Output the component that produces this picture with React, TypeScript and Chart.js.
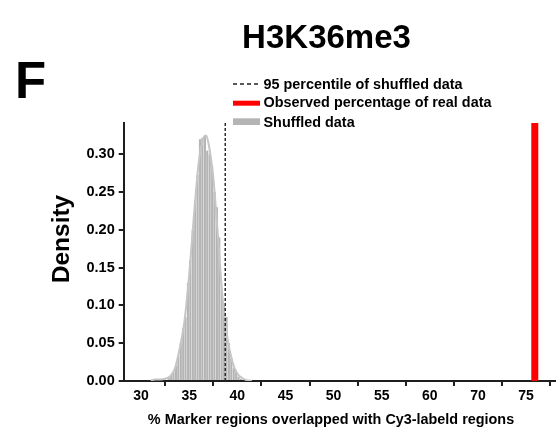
import { useEffect, useRef } from "react";
import { Chart, registerables } from "chart.js";

Chart.register(...registerables);

const FONT = "'Liberation Sans', Arial, Helvetica, sans-serif";

// ---- data ----
const histBinCenters = [
  31.375, 31.625, 32.875, 33.125, 33.375, 33.625, 33.875, 34.125, 34.375, 34.625,
  34.875, 35.125, 35.375, 35.625, 35.875, 36.125, 36.375, 36.625, 36.875, 37.125,
  37.375, 37.625, 37.875, 38.125, 38.375, 38.625, 38.875, 39.125, 39.375, 39.625,
  39.875, 40.125, 40.375,
];
const histDensity = [
  0.002, 0.003, 0.004, 0.008, 0.012, 0.02, 0.032, 0.05, 0.07, 0.085,
  0.13, 0.16, 0.2, 0.24, 0.273, 0.32, 0.322, 0.325, 0.305, 0.3,
  0.284, 0.25, 0.23, 0.19, 0.12, 0.1, 0.085, 0.05, 0.03, 0.017,
  0.012, 0.006, 0.003,
];
const kdeX = [31, 31.5, 32, 32.5, 33, 33.5, 34, 34.5, 35, 35.5, 36, 36.5, 36.75, 37, 37.5, 38, 38.5, 39, 39.5, 40, 40.5, 41, 41.5];
const kdeY = [0.001, 0.002, 0.002, 0.003, 0.006, 0.016, 0.042, 0.078, 0.14, 0.22, 0.29, 0.322, 0.325, 0.315, 0.27, 0.19, 0.105, 0.055, 0.025, 0.01, 0.004, 0.001, 0];
const percentile95 = 38.75;
// position of the observed value on the axis as drawn (axis labels jump 60 -> 70)
const observedPct = 70.9;
const xTickValues = [30, 35, 40, 45, 50, 55, 60, 65, 70];
const xTickLabels = ["30", "35", "40", "45", "50", "55", "60", "70", "75"];
const yTickValues = [0, 0.05, 0.1, 0.15, 0.2, 0.25, 0.3];
const xMin = 28.2;
const xMax = 73.0;
const yMax = 0.3414;
const legendLabels = ["95 percentile of shuffled data", "Observed percentage of real data", "Shuffled data"];
const titleText = "H3K36me3";
const panelLetter = "F";
const xTitle = "% Marker regions overlapped with Cy3-labeld regions";
const yTitle = "Density";

const AXIS = "#1e1e1e";
const GRAY = "#b4b4b4";
const RED = "#ff0000";

const textPlugin = {
  id: "texts",
  afterDraw(chart: any) {
    const ctx = chart.ctx as CanvasRenderingContext2D;
    ctx.save();
    ctx.fillStyle = "#000";
    ctx.textBaseline = "alphabetic";

    // panel letter
    ctx.textAlign = "left";
    ctx.font = `bold 51px ${FONT}`;
    ctx.fillText(panelLetter, 15, 98);

    // title
    ctx.textAlign = "center";
    ctx.font = `bold 33px ${FONT}`;
    ctx.fillText(titleText, 326.5, 48);

    // axis titles
    ctx.font = `bold 14.4px ${FONT}`;
    ctx.fillText(xTitle, 331, 424);

    ctx.save();
    ctx.translate(62, 239);
    ctx.rotate(-Math.PI / 2);
    ctx.textBaseline = "middle";
    ctx.font = `bold 24.5px ${FONT}`;
    ctx.fillText(yTitle, 0, 0);
    ctx.restore();

    // legend
    const lx0 = 233;
    const lx1 = 260;
    ctx.save();
    ctx.strokeStyle = "#222";
    ctx.lineWidth = 1.5;
    ctx.setLineDash([4, 3]);
    ctx.beginPath();
    ctx.moveTo(lx0, 84);
    ctx.lineTo(lx1, 84);
    ctx.stroke();
    ctx.restore();

    ctx.fillStyle = RED;
    ctx.fillRect(lx0, 100.7, lx1 - lx0, 5);
    ctx.fillStyle = GRAY;
    ctx.fillRect(lx0, 118.3, lx1 - lx0, 6.7);

    ctx.fillStyle = "#000";
    ctx.textAlign = "left";
    ctx.font = `bold 14.4px ${FONT}`;
    const baselines = [88.5, 107, 126.5];
    legendLabels.forEach((t, i) => ctx.fillText(t, 263.5, baselines[i]));

    ctx.restore();
  },
};

export default function App() {
  const canvasRef = useRef<HTMLCanvasElement | null>(null);

  useEffect(() => {
    if (!canvasRef.current) return;
    const chart = new Chart(canvasRef.current, {
      type: "bar",
      data: {
        datasets: [
          {
            type: "line",
            label: "obs",
            data: [
              { x: observedPct, y: 0 },
              { x: observedPct, y: yMax },
            ],
            borderColor: RED,
            borderWidth: 7,
            borderCapStyle: "butt",
            pointRadius: 0,
            order: 1,
          } as any,
          {
            type: "line",
            label: "p95",
            data: [
              { x: percentile95, y: 0 },
              { x: percentile95, y: yMax },
            ],
            borderColor: "#2a2a2a",
            borderWidth: 1.5,
            borderDash: [3, 2],
            pointRadius: 0,
            order: 1,
          } as any,
          {
            type: "line",
            label: "kde",
            data: kdeX.map((x, i) => ({ x, y: kdeY[i] })),
            borderColor: "#c6c6c6",
            borderWidth: 2,
            pointRadius: 0,
            cubicInterpolationMode: "monotone",
            fill: false,
            order: 2,
          } as any,
          {
            type: "bar",
            label: "Shuffled data",
            data: histBinCenters.map((x, i) => ({ x, y: histDensity[i] })),
            backgroundColor: GRAY,
            borderColor: "#e2e2e2",
            borderWidth: { left: 0.6, right: 0, top: 0, bottom: 0 },
            barPercentage: 1,
            categoryPercentage: 1,
            order: 3,
          } as any,
        ],
      },
      options: {
        responsive: false,
        animation: false,
        devicePixelRatio: 1,
        layout: { padding: { top: 123, right: 2, left: 0, bottom: 0 } },
        plugins: { legend: { display: false }, tooltip: { enabled: false }, title: { display: false } },
        scales: {
          x: {
            type: "linear",
            min: xMin,
            max: xMax,
            offset: false,
            afterBuildTicks: (s: any) => {
              s.ticks = xTickValues.map((v) => ({ value: v }));
            },
            afterFit: (s: any) => {
              s.height = 49;
            },
            ticks: {
              autoSkip: false,
              maxRotation: 0,
              padding: 2,
              color: "#000",
              font: { family: FONT, size: 14, weight: "bold" },
              callback: (_v: any, i: number) => xTickLabels[i],
            },
            grid: { drawOnChartArea: false, drawTicks: true, tickLength: 5, color: AXIS, lineWidth: 2 },
            border: { display: true, color: AXIS, width: 2 },
          },
          y: {
            min: 0,
            max: yMax,
            afterBuildTicks: (s: any) => {
              s.ticks = yTickValues.map((v) => ({ value: v }));
            },
            afterFit: (s: any) => {
              s.width = 123.7;
            },
            ticks: {
              padding: 4,
              color: "#000",
              font: { family: FONT, size: 14.5, weight: "bold" },
              callback: (v: any) => Number(v).toFixed(2),
            },
            grid: { drawOnChartArea: false, drawTicks: true, tickLength: 5, color: AXIS, lineWidth: 2 },
            border: { display: true, color: AXIS, width: 2 },
          },
        },
      } as any,
      plugins: [textPlugin],
    });
    return () => chart.destroy();
  }, []);

  return (
    <div style={{ position: "absolute", left: 0, top: 0, width: 557, height: 430, background: "#fff" }}>
      <canvas ref={canvasRef} width={557} height={430} />
    </div>
  );
}
